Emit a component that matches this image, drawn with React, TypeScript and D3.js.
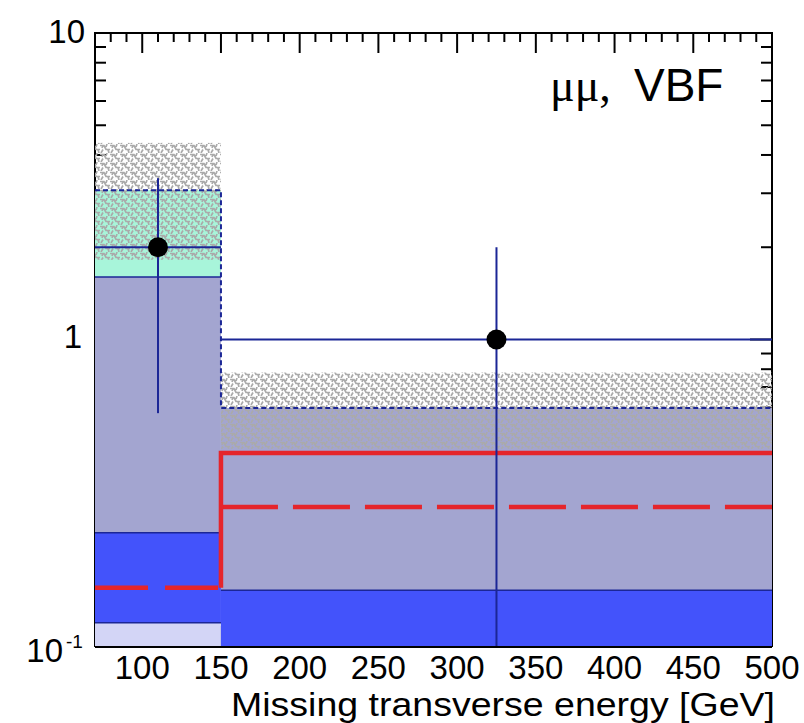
import React from "react";
import * as d3 from "d3";

// bins in GeV
const binEdges = [70, 150, 500];

// background components per bin (stacked)
const lightBkg = [0.119, 0];
const blueBkg = [0.115, 0.152];
const grayBkg = [1.366, 0.446];
const aquaBkg = [1.47, 0];

// uncertainty band on total background
const bandLow = [1.82, 0.44];
const bandHigh = [4.38, 0.78];

// signal lines
const signalSolid = [0.155, 0.426];
const signalDashed = [0.155, 0.284];

// data
const dataX = [110, 325];
const dataY = [2, 1];
const dataUp = [3.36, 2.0];
const dataDown = [0.575, 0.01];

const xTickLabels = [100, 150, 200, 250, 300, 350, 400, 450, 500];

const W = 804;
const H = 723;
const left = 95;
const right = 772;
const top = 33;
const bottom = 646;

const navy = "#1b2696";
const red = "#e5252b";
const layerColors: Record<string, string> = {
  light: "#d3d5f6",
  blue: "#4353fb",
  gray: "#a3a5d0",
  aqua: "#a8f5da",
};
const font = "'Liberation Sans', Arial, sans-serif";

export default function App() {
  const x = d3.scaleLinear().domain([70, 500]).range([left, right]);
  const y = d3.scaleLog().domain([0.1, 10]).range([bottom, top]).clamp(true);
  const ly = (v: number) => y(Math.max(v, 0.01));

  const rows = lightBkg.map((_, i) => ({
    light: lightBkg[i],
    blue: blueBkg[i],
    gray: grayBkg[i],
    aqua: aquaBkg[i],
  }));
  const keys = ["light", "blue", "gray", "aqua"];
  const stacked = d3.stack<any>().keys(keys)(rows);
  const totals = rows.map((r) => r.light + r.blue + r.gray + r.aqua);

  const minorX = d3.range(70, 501, 10);
  const yMinor: number[] = [];
  [0.1, 1].forEach((d) => {
    for (let k = 2; k <= 9; k++) yMinor.push(d * k);
  });
  const yMajor = [0.1, 1, 10];

  const totalPath =
    `M${x(binEdges[0])},${ly(totals[0])}H${x(binEdges[1])}` +
    `V${ly(totals[1])}H${x(binEdges[2])}`;

  return (
    <svg width={W} height={H} style={{ position: "absolute", left: 0, top: 0, background: "#fff" }}>
      <defs>
        <pattern id="hatch" width="10" height="9" patternUnits="userSpaceOnUse">
          <path
            d="M0,1.5 H4 L6,5.5 H10 M1,9 L3,5.5 M7,0 L6,3 M8,5.5 L9,9 M3,1.5 L2,4"
            stroke="#aaaaaa"
            strokeWidth="1.7"
            fill="none"
          />
        </pattern>
      </defs>

      {/* ticks (under the histograms) */}
      <g stroke="#000" strokeWidth={2}>
        {minorX.map((v) => {
          const len = v % 50 === 0 ? 20 : 9;
          return (
            <g key={"tx" + v}>
              <line x1={x(v)} x2={x(v)} y1={top} y2={top + len} />
              <line x1={x(v)} x2={x(v)} y1={bottom} y2={bottom - len} />
            </g>
          );
        })}
        {yMinor.map((v) => (
          <g key={"ty" + v}>
            <line x1={left} x2={left + 11} y1={y(v)} y2={y(v)} />
            <line x1={right} x2={right - 11} y1={y(v)} y2={y(v)} />
          </g>
        ))}
        {yMajor.map((v) => (
          <g key={"tY" + v}>
            <line x1={left} x2={left + 22} y1={y(v)} y2={y(v)} />
            <line x1={right} x2={right - 22} y1={y(v)} y2={y(v)} />
          </g>
        ))}
        <rect x={left} y={top} width={right - left} height={bottom - top} fill="none" />
      </g>

      {/* stacked backgrounds */}
      {stacked.map((layer) =>
        layer.map((d, i) =>
          d[1] - d[0] > 0 ? (
            <rect
              key={layer.key + i}
              x={x(binEdges[i])}
              width={x(binEdges[i + 1]) - x(binEdges[i])}
              y={ly(d[1])}
              height={ly(d[0]) - ly(d[1])}
              fill={layerColors[layer.key]}
            />
          ) : null
        )
      )}

      {/* layer outlines */}
      {stacked.map((layer) =>
        layer.map((d, i) =>
          d[1] - d[0] > 0 && d[1] < totals[i] - 1e-6 ? (
            <line
              key={"o" + layer.key + i}
              x1={x(binEdges[i])}
              x2={x(binEdges[i + 1])}
              y1={ly(d[1])}
              y2={ly(d[1])}
              stroke={navy}
              strokeWidth={1.5}
            />
          ) : null
        )
      )}

      {/* uncertainty band */}
      {bandLow.map((lo, i) => (
        <rect
          key={"band" + i}
          x={x(binEdges[i])}
          width={x(binEdges[i + 1]) - x(binEdges[i])}
          y={ly(bandHigh[i])}
          height={ly(lo) - ly(bandHigh[i])}
          fill="url(#hatch)"
        />
      ))}

      {/* total background, dashed */}
      <path d={totalPath} fill="none" stroke={navy} strokeWidth={2} strokeDasharray="5 3" />

      {/* signal */}
      <path
        d={`M${x(binEdges[0])},${ly(signalDashed[0])}H${x(binEdges[1])}`}
        fill="none"
        stroke={red}
        strokeWidth={4.5}
        strokeDasharray="53 17"
      />
      <path
        d={`M${x(binEdges[1])},${ly(signalDashed[1])}H${x(binEdges[2])}`}
        fill="none"
        stroke={red}
        strokeWidth={4.5}
        strokeDasharray="57 15"
      />
      <path
        d={`M${x(binEdges[1])},${ly(signalSolid[0])}V${ly(signalSolid[1])}H${x(binEdges[2])}`}
        fill="none"
        stroke={red}
        strokeWidth={4.5}
      />

      {/* data */}
      {dataY.map((v, i) => (
        <g key={"d" + i} stroke={navy} strokeWidth={2}>
          <line x1={x(binEdges[i])} x2={x(binEdges[i + 1])} y1={y(v)} y2={y(v)} />
          <line x1={x(dataX[i])} x2={x(dataX[i])} y1={ly(dataUp[i])} y2={ly(dataDown[i])} />
          <circle cx={x(dataX[i])} cy={y(v)} r={10} fill="#000" stroke="none" />
        </g>
      ))}

      <line x1={left} x2={right} y1={bottom + 1} y2={bottom + 1} stroke="#000" strokeWidth={2} />

      {/* labels */}
      <g fontFamily={font} fill="#000">
        {xTickLabels.map((v) => (
          <text key={"xl" + v} x={x(v)} y={679} fontSize={33} textAnchor="middle">
            {v}
          </text>
        ))}
        <text x={85} y={43} fontSize={33} textAnchor="end">10</text>
        <text x={82} y={348} fontSize={33} textAnchor="end">1</text>
        <text x={63} y={662} fontSize={33} textAnchor="end">10</text>
        <text x={66} y={648} fontSize={19}>-1</text>
        <text x={231} y={716} fontSize={34} textLength={544} lengthAdjust="spacingAndGlyphs">
          Missing transverse energy [GeV]
        </text>
        <text x={550} y={101} fontSize={46} fontFamily="'Liberation Serif', serif">μμ,</text>
        <text x={634} y={101} fontSize={46}>VBF</text>
      </g>
    </svg>
  );
}
